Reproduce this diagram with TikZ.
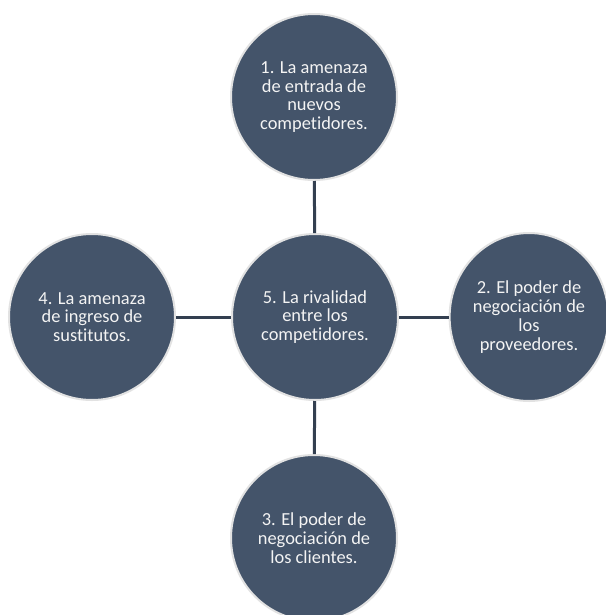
\documentclass[tikz,border=0pt]{standalone}
\usepackage{fontspec}
\setmainfont{Carlito}[Ligatures=NoCommon]
\usetikzlibrary{shapes.geometric}
\definecolor{bubble}{HTML}{44546A}
\definecolor{rim}{HTML}{E2E2E2}
\definecolor{link}{HTML}{333F50}
\definecolor{txt}{HTML}{F4F4F4}
\tikzset{
  bub/.style={circle, fill=bubble, draw=rim, line width=1.5pt, minimum size=124.5pt,
    inner sep=0pt, align=center, text=txt,
    font=\fontsize{13.8pt}{14.1pt}\selectfont},
  bubell/.style={bub, ellipse, minimum width=114pt, minimum height=126pt},
  linkline/.style={draw=link, line width=2.25pt}
}
\begin{document}
\begin{tikzpicture}[x=0.75pt,y=-0.75pt]
\useasboundingbox (0,0) rectangle (606,615);
\clip (0,0) rectangle (606,615);
\fill[white] (0,0) rectangle (606,615);
\node[bub] (T) at (314,97) {1. La amenaza\\de entrada de\\nuevos\\competidores.};
\node[bub] (C) at (315,317) {5. La rivalidad\\entre los\\competidores.};
\node[bub] (L) at (92,317) {4. La amenaza\\de ingreso de\\sustitutos.};
\node[bubell] (R) at (529,317) {2. El poder de\\negociación de\\los\\proveedores.};
\node[bub] (B) at (314,538) {3. El poder de\\negociación de\\los clientes.};
\draw[linkline] (T) -- (C);
\draw[linkline] (C) -- (B);
\draw[linkline] (L) -- (C);
\draw[linkline] (C) -- (R);
\end{tikzpicture}
\end{document}
